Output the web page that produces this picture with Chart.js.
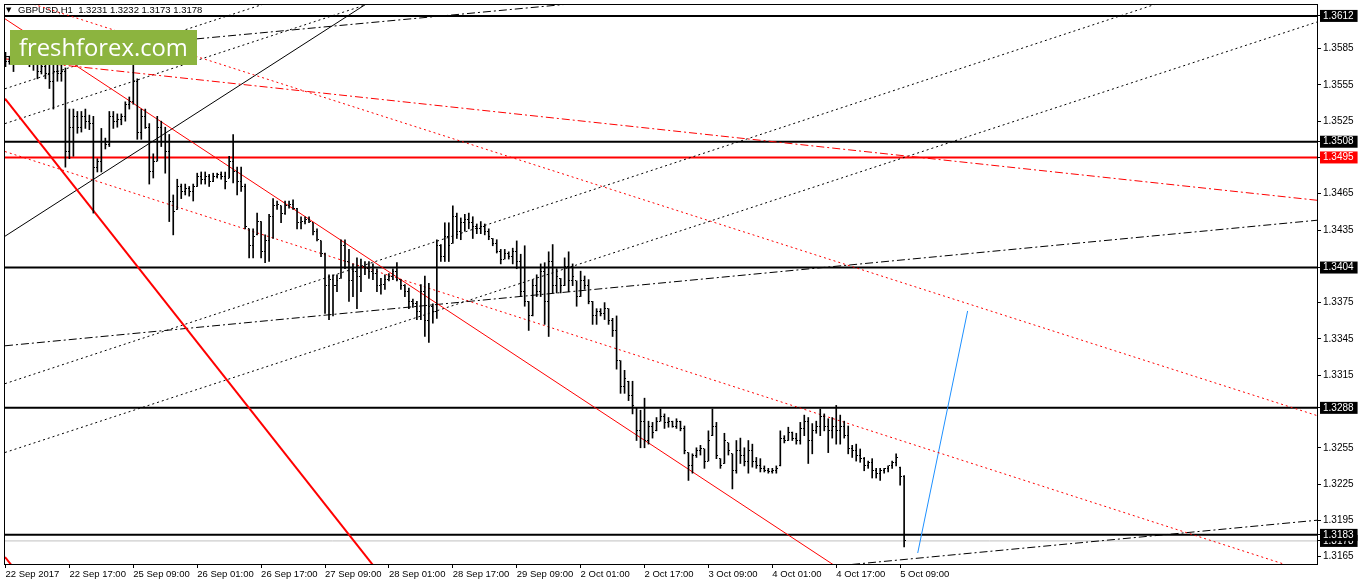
<!DOCTYPE html>
<html>
<head>
<meta charset="utf-8">
<title>GBPUSD H1</title>
<script src="https://cdn.jsdelivr.net/npm/chart.js@4.4.1/dist/chart.umd.min.js"></script>
<style>
  html, body { margin: 0; padding: 0; background: #fff; }
  canvas { display: block; }
</style>
</head>
<body>
<canvas id="priceChart" width="1358" height="584"></canvas>
<script>
// x axis labels, one every 16 hourly bars
const xLabels = ["22 Sep 2017", "22 Sep 17:00", "25 Sep 09:00", "26 Sep 01:00", "26 Sep 17:00",
  "27 Sep 09:00", "28 Sep 01:00", "28 Sep 17:00", "29 Sep 09:00", "2 Oct 01:00", "2 Oct 17:00",
  "3 Oct 09:00", "4 Oct 01:00", "4 Oct 17:00", "5 Oct 09:00"];
const xLabelBars = [0, 16, 32, 48, 64, 80, 96, 112, 128, 144, 160, 176, 192, 208, 224];

// hourly bars
const opens = [
  1.3578, 1.3574, 1.3576, 1.3574, 1.3582, 1.3584, 1.3578, 1.3574, 1.3576, 1.3566,
  1.3570, 1.3564, 1.3558, 1.3566, 1.3564, 1.3566, 1.3500, 1.3520, 1.3529, 1.3520,
  1.3529, 1.3525, 1.3523, 1.3487, 1.3492, 1.3508, 1.3506, 1.3529, 1.3525, 1.3526,
  1.3529, 1.3539, 1.3541, 1.3558, 1.3516, 1.3529, 1.3520, 1.3483, 1.3492, 1.3520,
  1.3508, 1.3500, 1.3459, 1.3452, 1.3471, 1.3467, 1.3469, 1.3467, 1.3471, 1.3479,
  1.3477, 1.3479, 1.3475, 1.3479, 1.3481, 1.3479, 1.3478, 1.3492, 1.3483, 1.3475,
  1.3471, 1.3436, 1.3422, 1.3431, 1.3442, 1.3417, 1.3426, 1.3446, 1.3455, 1.3455,
  1.3449, 1.3455, 1.3456, 1.3453, 1.3441, 1.3442, 1.3444, 1.3441, 1.3434, 1.3426,
  1.3416, 1.3389, 1.3394, 1.3389, 1.3395, 1.3422, 1.3409, 1.3393, 1.3401, 1.3397,
  1.3405, 1.3403, 1.3401, 1.3399, 1.3389, 1.3390, 1.3394, 1.3397, 1.3401, 1.3394,
  1.3389, 1.3384, 1.3376, 1.3374, 1.3368, 1.3384, 1.3360, 1.3372, 1.3368, 1.3422,
  1.3413, 1.3430, 1.3424, 1.3446, 1.3434, 1.3441, 1.3444, 1.3441, 1.3438, 1.3436,
  1.3438, 1.3434, 1.3428, 1.3424, 1.3417, 1.3411, 1.3416, 1.3413, 1.3417, 1.3409,
  1.3384, 1.3376, 1.3364, 1.3389, 1.3384, 1.3401, 1.3376, 1.3409, 1.3389, 1.3395,
  1.3389, 1.3405, 1.3393, 1.3393, 1.3380, 1.3393, 1.3389, 1.3376, 1.3364, 1.3368,
  1.3366, 1.3370, 1.3360, 1.3352, 1.3327, 1.3306, 1.3310, 1.3298, 1.3288, 1.3269,
  1.3277, 1.3261, 1.3273, 1.3269, 1.3277, 1.3281, 1.3276, 1.3277, 1.3273, 1.3277,
  1.3271, 1.3251, 1.3240, 1.3249, 1.3253, 1.3254, 1.3244, 1.3265, 1.3273, 1.3246,
  1.3242, 1.3259, 1.3250, 1.3236, 1.3253, 1.3249, 1.3244, 1.3253, 1.3244, 1.3240,
  1.3238, 1.3236, 1.3235, 1.3236, 1.3240, 1.3263, 1.3261, 1.3268, 1.3263, 1.3261,
  1.3271, 1.3277, 1.3261, 1.3269, 1.3273, 1.3281, 1.3273, 1.3269, 1.3273, 1.3269,
  1.3273, 1.3265, 1.3254, 1.3253, 1.3249, 1.3246, 1.3240, 1.3243, 1.3236, 1.3234,
  1.3236, 1.3238, 1.3240, 1.3243, 1.3239, 1.3231
];
const highs = [
  1.3582, 1.3578, 1.3578, 1.3586, 1.3589, 1.3586, 1.3584, 1.3582, 1.3578, 1.3576,
  1.3578, 1.3574, 1.3572, 1.3574, 1.3576, 1.3569, 1.3535, 1.3535, 1.3533, 1.3533,
  1.3535, 1.3530, 1.3529, 1.3494, 1.3519, 1.3511, 1.3533, 1.3533, 1.3531, 1.3531,
  1.3541, 1.3545, 1.3574, 1.3560, 1.3535, 1.3535, 1.3523, 1.3498, 1.3529, 1.3525,
  1.3520, 1.3514, 1.3464, 1.3477, 1.3473, 1.3473, 1.3471, 1.3473, 1.3482, 1.3483,
  1.3483, 1.3481, 1.3482, 1.3482, 1.3483, 1.3483, 1.3496, 1.3514, 1.3487, 1.3487,
  1.3473, 1.3436, 1.3436, 1.3449, 1.3442, 1.3431, 1.3448, 1.3461, 1.3459, 1.3455,
  1.3459, 1.3459, 1.3460, 1.3453, 1.3446, 1.3446, 1.3446, 1.3441, 1.3436, 1.3426,
  1.3416, 1.3398, 1.3398, 1.3398, 1.3427, 1.3427, 1.3419, 1.3407, 1.3412, 1.3411,
  1.3409, 1.3409, 1.3407, 1.3403, 1.3395, 1.3398, 1.3399, 1.3403, 1.3408, 1.3394,
  1.3390, 1.3387, 1.3378, 1.3376, 1.3390, 1.3397, 1.3391, 1.3374, 1.3427, 1.3423,
  1.3441, 1.3441, 1.3455, 1.3449, 1.3445, 1.3448, 1.3449, 1.3446, 1.3440, 1.3442,
  1.3440, 1.3436, 1.3428, 1.3427, 1.3419, 1.3419, 1.3417, 1.3420, 1.3426, 1.3415,
  1.3422, 1.3376, 1.3394, 1.3398, 1.3407, 1.3408, 1.3417, 1.3423, 1.3403, 1.3395,
  1.3412, 1.3417, 1.3407, 1.3393, 1.3401, 1.3397, 1.3394, 1.3376, 1.3370, 1.3370,
  1.3375, 1.3370, 1.3362, 1.3364, 1.3327, 1.3319, 1.3310, 1.3310, 1.3288, 1.3286,
  1.3296, 1.3277, 1.3276, 1.3280, 1.3287, 1.3283, 1.3280, 1.3277, 1.3279, 1.3277,
  1.3273, 1.3251, 1.3250, 1.3255, 1.3257, 1.3254, 1.3269, 1.3287, 1.3276, 1.3246,
  1.3267, 1.3259, 1.3250, 1.3261, 1.3263, 1.3255, 1.3261, 1.3258, 1.3247, 1.3246,
  1.3240, 1.3238, 1.3238, 1.3240, 1.3269, 1.3265, 1.3272, 1.3268, 1.3267, 1.3276,
  1.3282, 1.3280, 1.3275, 1.3277, 1.3287, 1.3283, 1.3279, 1.3280, 1.3290, 1.3282,
  1.3277, 1.3273, 1.3257, 1.3258, 1.3254, 1.3247, 1.3244, 1.3246, 1.3238, 1.3238,
  1.3238, 1.3240, 1.3244, 1.3250, 1.3239, 1.3232
];
const lows = [
  1.3570, 1.3572, 1.3566, 1.3574, 1.3576, 1.3572, 1.3570, 1.3567, 1.3560, 1.3564,
  1.3560, 1.3552, 1.3535, 1.3558, 1.3558, 1.3487, 1.3494, 1.3496, 1.3515, 1.3516,
  1.3519, 1.3518, 1.3449, 1.3483, 1.3483, 1.3502, 1.3504, 1.3519, 1.3520, 1.3522,
  1.3525, 1.3535, 1.3539, 1.3510, 1.3510, 1.3519, 1.3473, 1.3478, 1.3492, 1.3504,
  1.3482, 1.3442, 1.3431, 1.3452, 1.3461, 1.3464, 1.3463, 1.3459, 1.3471, 1.3473,
  1.3473, 1.3471, 1.3475, 1.3478, 1.3477, 1.3469, 1.3478, 1.3474, 1.3464, 1.3467,
  1.3436, 1.3412, 1.3412, 1.3431, 1.3412, 1.3408, 1.3409, 1.3428, 1.3452, 1.3441,
  1.3448, 1.3453, 1.3452, 1.3436, 1.3436, 1.3440, 1.3441, 1.3431, 1.3426, 1.3413,
  1.3366, 1.3361, 1.3364, 1.3384, 1.3395, 1.3403, 1.3376, 1.3380, 1.3370, 1.3384,
  1.3398, 1.3395, 1.3394, 1.3384, 1.3382, 1.3386, 1.3393, 1.3394, 1.3393, 1.3386,
  1.3380, 1.3370, 1.3371, 1.3361, 1.3361, 1.3347, 1.3342, 1.3358, 1.3362, 1.3409,
  1.3409, 1.3409, 1.3424, 1.3428, 1.3427, 1.3434, 1.3436, 1.3428, 1.3432, 1.3432,
  1.3431, 1.3427, 1.3422, 1.3416, 1.3407, 1.3411, 1.3411, 1.3407, 1.3403, 1.3380,
  1.3372, 1.3352, 1.3364, 1.3380, 1.3380, 1.3357, 1.3347, 1.3383, 1.3383, 1.3383,
  1.3389, 1.3384, 1.3389, 1.3372, 1.3380, 1.3386, 1.3374, 1.3357, 1.3357, 1.3364,
  1.3361, 1.3357, 1.3347, 1.3320, 1.3300, 1.3300, 1.3294, 1.3283, 1.3261, 1.3255,
  1.3255, 1.3258, 1.3263, 1.3269, 1.3277, 1.3271, 1.3272, 1.3272, 1.3271, 1.3269,
  1.3250, 1.3228, 1.3234, 1.3247, 1.3249, 1.3238, 1.3244, 1.3265, 1.3246, 1.3238,
  1.3242, 1.3249, 1.3221, 1.3234, 1.3242, 1.3240, 1.3234, 1.3239, 1.3238, 1.3235,
  1.3235, 1.3234, 1.3234, 1.3234, 1.3240, 1.3259, 1.3261, 1.3261, 1.3258, 1.3258,
  1.3265, 1.3242, 1.3250, 1.3267, 1.3265, 1.3269, 1.3251, 1.3263, 1.3258, 1.3258,
  1.3263, 1.3250, 1.3247, 1.3244, 1.3243, 1.3236, 1.3238, 1.3230, 1.3230, 1.3228,
  1.3234, 1.3235, 1.3238, 1.3240, 1.3224, 1.3173
];
const closes = [
  1.3574, 1.3576, 1.3572, 1.3582, 1.3584, 1.3578, 1.3574, 1.3576, 1.3566, 1.3570,
  1.3564, 1.3558, 1.3566, 1.3564, 1.3566, 1.3500, 1.3520, 1.3529, 1.3520, 1.3529,
  1.3525, 1.3523, 1.3487, 1.3492, 1.3508, 1.3506, 1.3529, 1.3525, 1.3526, 1.3529,
  1.3539, 1.3541, 1.3558, 1.3516, 1.3529, 1.3520, 1.3483, 1.3492, 1.3520, 1.3508,
  1.3500, 1.3459, 1.3450, 1.3471, 1.3467, 1.3469, 1.3467, 1.3471, 1.3479, 1.3477,
  1.3479, 1.3475, 1.3479, 1.3481, 1.3479, 1.3475, 1.3492, 1.3483, 1.3475, 1.3471,
  1.3438, 1.3422, 1.3430, 1.3442, 1.3417, 1.3426, 1.3446, 1.3455, 1.3456, 1.3449,
  1.3455, 1.3456, 1.3453, 1.3441, 1.3442, 1.3444, 1.3442, 1.3434, 1.3427, 1.3416,
  1.3389, 1.3394, 1.3389, 1.3393, 1.3422, 1.3409, 1.3393, 1.3401, 1.3397, 1.3405,
  1.3403, 1.3401, 1.3399, 1.3389, 1.3390, 1.3394, 1.3397, 1.3401, 1.3394, 1.3389,
  1.3384, 1.3376, 1.3374, 1.3368, 1.3384, 1.3360, 1.3372, 1.3368, 1.3422, 1.3413,
  1.3430, 1.3422, 1.3446, 1.3434, 1.3441, 1.3444, 1.3441, 1.3438, 1.3436, 1.3438,
  1.3434, 1.3430, 1.3424, 1.3417, 1.3411, 1.3416, 1.3413, 1.3417, 1.3409, 1.3384,
  1.3376, 1.3364, 1.3389, 1.3384, 1.3401, 1.3376, 1.3409, 1.3389, 1.3397, 1.3389,
  1.3405, 1.3393, 1.3397, 1.3380, 1.3393, 1.3389, 1.3376, 1.3364, 1.3368, 1.3366,
  1.3370, 1.3360, 1.3352, 1.3327, 1.3306, 1.3312, 1.3298, 1.3290, 1.3269, 1.3277,
  1.3261, 1.3273, 1.3268, 1.3277, 1.3281, 1.3276, 1.3277, 1.3273, 1.3277, 1.3271,
  1.3253, 1.3240, 1.3249, 1.3253, 1.3254, 1.3244, 1.3261, 1.3273, 1.3249, 1.3240,
  1.3261, 1.3253, 1.3236, 1.3253, 1.3249, 1.3244, 1.3253, 1.3244, 1.3240, 1.3238,
  1.3236, 1.3235, 1.3236, 1.3238, 1.3263, 1.3261, 1.3268, 1.3263, 1.3261, 1.3271,
  1.3277, 1.3261, 1.3269, 1.3273, 1.3281, 1.3273, 1.3269, 1.3273, 1.3269, 1.3273,
  1.3265, 1.3254, 1.3253, 1.3249, 1.3246, 1.3240, 1.3243, 1.3236, 1.3234, 1.3236,
  1.3238, 1.3240, 1.3243, 1.3247, 1.3231, 1.3178
];

// price axis
const yTicks = [1.3585, 1.3555, 1.3525, 1.3465, 1.3435, 1.3375, 1.3345, 1.3315, 1.3255, 1.3225, 1.3195, 1.3165];
const levels = [1.3612, 1.3508, 1.3495, 1.3404, 1.3288, 1.3183];
const redLevel = 1.3495;
const bidPrice = 1.3178;

// drawn trend lines: [bar, price] at each end
const trendFrom = [
  [-0.125, 1.35436], [-0.125, 1.31647], [-0.125, 1.36096], [-0.125, 1.36292], [-0.125, 1.35765],
  [-0.125, 1.34999], [-0.125, 1.35518], [-0.125, 1.35230], [-0.125, 1.33080], [-0.125, 1.32511],
  [-0.125, 1.34299], [-0.125, 1.33393], [200, 1.31548], [-0.125, 1.35782], [228.4, 1.31680]
];
const trendTo = [
  [95, 1.31455], [5, 1.31433], [210, 1.31524], [328.4, 1.32816], [328.4, 1.34596],
  [328.4, 1.31500], [74.1, 1.36320], [99.1, 1.36309], [300, 1.36348], [328.4, 1.36070],
  [99.1, 1.36405], [328.4, 1.34431], [328.4, 1.31951], [149.1, 1.36243], [240.9, 1.33681]
];
const trendKind = ["thickRed", "thickRed", "red", "redDot", "redDashDot",
  "redDot", "dot", "dot", "dot", "dot",
  "solid", "dashDot", "dashDot", "dashDot", "blue"];

// how each kind of line looks
const lineLook = {
  thickRed:   { color: "#ff0000", width: 2, dash: [] },
  red:        { color: "#ff0000", width: 1, dash: [] },
  redDot:     { color: "#ff0000", width: 1, dash: [2, 3] },
  redDashDot: { color: "#ff0000", width: 1, dash: [8, 3, 2, 3] },
  dot:        { color: "#000000", width: 1, dash: [2, 3] },
  dashDot:    { color: "#000000", width: 1, dash: [8, 3, 2, 3] },
  solid:      { color: "#000000", width: 1, dash: [] },
  blue:       { color: "#1e90ff", width: 1, dash: [] }
};

const last = closes.length - 1;
const isLevel = v => [...levels, bidPrice].some(l => Math.abs(l - v) < 1e-7);

// little open / close ticks, left and right of the bar
function tickImage(right) {
  const c = document.createElement("canvas");
  c.width = 3; c.height = 1;
  const g = c.getContext("2d");
  g.fillStyle = "#000";
  g.fillRect(right ? 2 : 0, 0, 1, 1);
  return c;
}

const datasets = [];

// high-low sticks
datasets.push({
  type: "bar",
  data: highs.map((h, i) => ({ x: i, y: [lows[i], h] })),
  backgroundColor: "#000",
  borderWidth: 0,
  barThickness: 1,
  order: 1
});
datasets.push({
  type: "line", showLine: false,
  data: opens.map((o, i) => ({ x: i, y: o })),
  pointStyle: tickImage(false), pointRadius: 1, order: 0
});
datasets.push({
  type: "line", showLine: false,
  data: closes.map((c, i) => ({ x: i, y: c })),
  pointStyle: tickImage(true), pointRadius: 1, order: 0
});

// trend lines
trendFrom.forEach((p, k) => {
  const look = lineLook[trendKind[k]];
  datasets.push({
    type: "line",
    data: [{ x: p[0], y: p[1] }, { x: trendTo[k][0], y: trendTo[k][1] }],
    borderColor: look.color, borderWidth: look.width, borderDash: look.dash,
    pointRadius: 0, fill: false, order: 2
  });
});

// horizontal levels + bid line
levels.forEach(v => {
  datasets.push({
    type: "line",
    data: [{ x: -1, y: v }, { x: 330, y: v }],
    borderColor: v === redLevel ? "#ff0000" : "#000", borderWidth: 2,
    pointRadius: 0, fill: false, order: 3
  });
});
datasets.push({
  type: "line",
  data: [{ x: -1, y: bidPrice }, { x: 330, y: bidPrice }],
  borderColor: "#c0c0c0", borderWidth: 1, pointRadius: 0, fill: false, order: 4
});

// header text, frame and the logo box
const chartDecor = {
  id: "chartDecor",
  beforeDatasetsDraw(chart) {
    const ctx = chart.ctx;
    ctx.imageSmoothingEnabled = false;
    ctx.save();
    ctx.fillStyle = "#000";
    ctx.font = '7px "DejaVu Sans"';
    ctx.fillText("\u25BC", 6, 12);
    ctx.font = '9.5px "Liberation Sans", Arial, sans-serif';
    const hdr = "GBPUSD,H1  " + [opens[last], highs[last], lows[last], closes[last]].map(v => v.toFixed(4)).join(" ");
    ctx.fillText(hdr, 18, 13);
    ctx.restore();
  },
  afterDatasetsDraw(chart) {
    const { ctx, chartArea: a } = chart;
    ctx.save();
    ctx.strokeStyle = "#000";
    ctx.lineWidth = 1;
    ctx.setLineDash([]);
    ctx.strokeRect(a.left - 0.5, a.top - 0.5, a.right - a.left + 1, a.bottom - a.top + 1);
    ctx.restore();
  },
  afterDraw(chart) {
    const ctx = chart.ctx;
    ctx.save();
    ctx.fillStyle = "#8cb43f";
    ctx.fillRect(10, 30, 187, 35);
    ctx.fillStyle = "#fff";
    ctx.font = '26px "Open Sans"';
    const w = ctx.measureText("freshforex.com").width;
    ctx.font = (26 * 169 / w).toFixed(2) + 'px "Open Sans"';
    ctx.textBaseline = "alphabetic";
    ctx.fillText("freshforex.com", 19, 56);
    ctx.restore();
  }
};

Chart.defaults.font.family = '"Liberation Sans", Arial, sans-serif';

new Chart(document.getElementById("priceChart"), {
  type: "bar",
  data: { datasets },
  plugins: [chartDecor],
  options: {
    responsive: false,
    animation: false,
    devicePixelRatio: 1,
    events: [],
    layout: { padding: { left: 3, top: 3, right: 0, bottom: 0 } },
    plugins: { legend: { display: false }, tooltip: { enabled: false } },
    scales: {
      x: {
        type: "linear", min: -0.125, max: 328.375, offset: false,
        border: { display: false },
        grid: { drawOnChartArea: false, tickLength: 4, color: "#000", offset: false },
        afterBuildTicks: s => { s.ticks = xLabelBars.map(v => ({ value: v })); },
        afterFit: s => { s.height = 20; s.paddingLeft = 0; s.paddingRight = 0; },
        ticks: {
          autoSkip: false, maxRotation: 0, minRotation: 0, align: "start", padding: 1,
          color: "#000", font: { size: 9.5 },
          callback: (v, i) => xLabels[i]
        }
      },
      y: {
        position: "right",
        min: 1.315892, max: 1.362103,
        border: { display: false },
        grid: { drawOnChartArea: false, tickLength: 4, color: "#000" },
        afterBuildTicks: s => { s.ticks = [...yTicks, bidPrice, ...levels].map(v => ({ value: v })); },
        afterFit: s => { s.width = 41; s.paddingTop = 0; s.paddingBottom = 0; },
        ticks: {
          autoSkip: false, padding: 2,
          font: { size: 10 },
          color: ctx => isLevel(ctx.tick.value) ? "#fff" : "#000",
          showLabelBackdrop: ctx => isLevel(ctx.tick.value),
          backdropColor: ctx => Math.abs(ctx.tick.value - redLevel) < 1e-7 ? "#ff0000" : "#000",
          backdropPadding: { top: 0, bottom: 0, left: 3, right: 4 },
          callback: v => v.toFixed(4)
        }
      }
    }
  }
});
</script>
</body>
</html>
